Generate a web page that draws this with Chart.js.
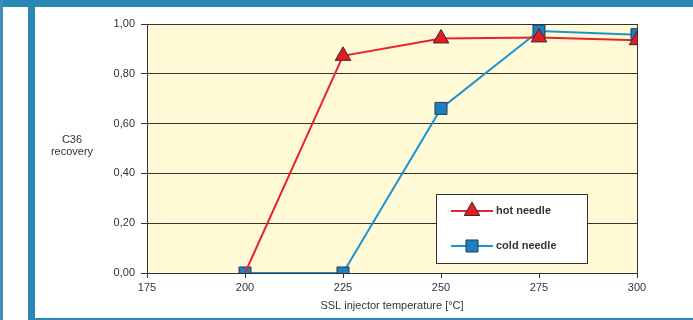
<!DOCTYPE html>
<html>
<head>
<meta charset="utf-8">
<script src="https://cdn.jsdelivr.net/npm/chart.js@4/dist/chart.umd.min.js"></script>
<style>
  html, body { margin: 0; padding: 0; background: #ffffff; }
  #wrap { position: relative; width: 693px; height: 320px; overflow: hidden; background: #ffffff; }
  .band { position: absolute; background: #2b87b5; }
  #c { position: absolute; left: 0; top: 0; }
</style>
</head>
<body>
<div id="wrap">
  <div class="band" style="left:0;top:0;width:693px;height:7px;"></div>
  <div class="band" style="left:0;top:0;width:3px;height:320px;background:#3a8fbb;"></div>
  <div class="band" style="left:28px;top:0;width:7px;height:320px;"></div>
  <div class="band" style="left:28px;top:318px;width:665px;height:2px;"></div>
  <canvas id="c" width="693" height="320"></canvas>
</div>
<script>
// Injector temperatures (°C) at which recovery was measured
const temperatures = [200, 225, 250, 275, 300];
// C36 recovery, hot vs. cold needle injection
const hotNeedle = [0, 0.872, 0.942, 0.946, 0.935];
const coldNeedle = [0, 0, 0.661, 0.972, 0.957];
const seriesNames = ['hot needle', 'cold needle'];
const xTickValues = [175, 200, 225, 250, 275, 300];
const yTickLabels = ['0,00', '0,20', '0,40', '0,60', '0,80', '1,00'];

const INK = '#333333';
const FONT = "'Liberation Sans', Arial, sans-serif";

const toPoints = (vals) => temperatures.map((t, i) => ({ x: t, y: vals[i] }));

// Pale plot background and the frame round the plot area
const plotFrame = {
  id: 'plotFrame',
  beforeDraw(chart) {
    const { ctx, chartArea: a } = chart;
    ctx.save();
    ctx.fillStyle = '#fff9d6';
    ctx.fillRect(a.left, a.top, a.right - a.left, a.bottom - a.top);
    ctx.restore();
  },
  beforeDatasetsDraw(chart) {
    const { ctx, chartArea: a } = chart;
    ctx.save();
    ctx.strokeStyle = INK;
    ctx.lineWidth = 1;
    ctx.strokeRect(Math.round(a.left) + 0.5, Math.round(a.top) + 0.5,
                   Math.round(a.right - a.left), Math.round(a.bottom - a.top));
    ctx.restore();
  }
};

// Horizontal two-line label beside the value axis
const sideLabel = {
  id: 'sideLabel',
  afterDraw(chart) {
    const { ctx, chartArea: a } = chart;
    ctx.save();
    ctx.fillStyle = INK;
    ctx.font = '11px ' + FONT;
    ctx.textAlign = 'center';
    ctx.textBaseline = 'middle';
    const cy = (a.top + a.bottom) / 2;
    ctx.fillText('C36', 72, cy - 9);
    ctx.fillText('recovery', 72, cy + 3);
    ctx.restore();
  }
};

// Boxed legend inside the plot: line segment with the marker on it
const boxLegend = {
  id: 'boxLegend',
  afterDatasetsDraw(chart) {
    const { ctx, chartArea: a } = chart;
    const bx = a.left + 289, by = a.top + 170, bw = 151, bh = 69;
    ctx.save();
    ctx.fillStyle = '#ffffff';
    ctx.fillRect(bx, by, bw, bh);
    ctx.strokeStyle = INK;
    ctx.lineWidth = 1;
    ctx.strokeRect(bx + 0.5, by + 0.5, bw, bh);
    const rows = [17, 52];
    chart.data.datasets.forEach((ds, i) => {
      const y = by + rows[i];
      ctx.strokeStyle = ds.borderColor;
      ctx.lineWidth = 2;
      ctx.beginPath();
      ctx.moveTo(bx + 15, y);
      ctx.lineTo(bx + 57, y);
      ctx.stroke();
      ctx.fillStyle = ds.pointBackgroundColor;
      ctx.strokeStyle = ds.pointBorderColor;
      ctx.lineWidth = 1;
      Chart.helpers.drawPoint(ctx, {
        pointStyle: ds.pointStyle, radius: ds.legendRadius, rotation: 0, borderWidth: 1
      }, bx + 36, y);
      ctx.fillStyle = INK;
      ctx.font = 'bold 11px ' + FONT;
      ctx.textAlign = 'left';
      ctx.textBaseline = 'middle';
      ctx.fillText(ds.label, bx + 60, y);
    });
    ctx.restore();
  }
};

new Chart(document.getElementById('c'), {
  type: 'line',
  data: {
    datasets: [
      {
        label: seriesNames[0],
        data: toPoints(hotNeedle),
        borderColor: '#e8232b',
        borderWidth: 2,
        pointStyle: 'triangle',
        // the 200 °C marker sits underneath the cold-needle square
        pointRadius: [0, 9, 9, 9, 9],
        pointHoverRadius: [0, 9, 9, 9, 9],
        legendRadius: 9,
        pointBackgroundColor: '#e31b23',
        pointBorderColor: '#3a2a2a',
        pointBorderWidth: 1,
        tension: 0
      },
      {
        label: seriesNames[1],
        data: toPoints(coldNeedle),
        borderColor: '#1c94d2',
        borderWidth: 2,
        pointStyle: 'rect',
        pointRadius: 8.5,
        pointHoverRadius: 8.5,
        legendRadius: 8.5,
        pointBackgroundColor: '#1a80c4',
        pointBorderColor: '#2a3a44',
        pointBorderWidth: 1,
        tension: 0
      }
    ]
  },
  options: {
    responsive: false,
    animation: false,
    layout: { padding: { left: 87, right: 56, top: 24, bottom: 0 } },
    plugins: {
      legend: { display: false },
      tooltip: { enabled: false }
    },
    scales: {
      x: {
        type: 'linear',
        min: xTickValues[0],
        max: xTickValues[xTickValues.length - 1],
        afterBuildTicks: (s) => { s.ticks = xTickValues.map(v => ({ value: v })); },
        afterFit: (s) => { s.height = 47; },
        grid: { display: true, drawOnChartArea: false, drawTicks: true, tickLength: 5, color: INK, lineWidth: 1 },
        border: { display: true, color: INK, width: 1 },
        ticks: { color: INK, padding: 3, font: { family: FONT, size: 11 }, maxRotation: 0 },
        title: {
          display: true,
          text: 'SSL injector temperature [°C]',
          color: INK,
          font: { family: FONT, size: 11 },
          padding: { top: 0, bottom: 7 }
        }
      },
      y: {
        min: 0,
        max: 1,
        afterBuildTicks: (s) => { s.ticks = yTickLabels.map((_, i) => ({ value: i * 0.2 })); },
        afterFit: (s) => { s.width = 60; },
        grid: { color: INK, lineWidth: 1, drawTicks: true, tickLength: 6 },
        border: { display: true, color: INK, width: 1 },
        ticks: {
          color: INK,
          padding: 6,
          font: { family: FONT, size: 11 },
          callback: (v, i) => yTickLabels[i]
        }
      }
    }
  },
  plugins: [plotFrame, sideLabel, boxLegend]
});
</script>
</body>
</html>
